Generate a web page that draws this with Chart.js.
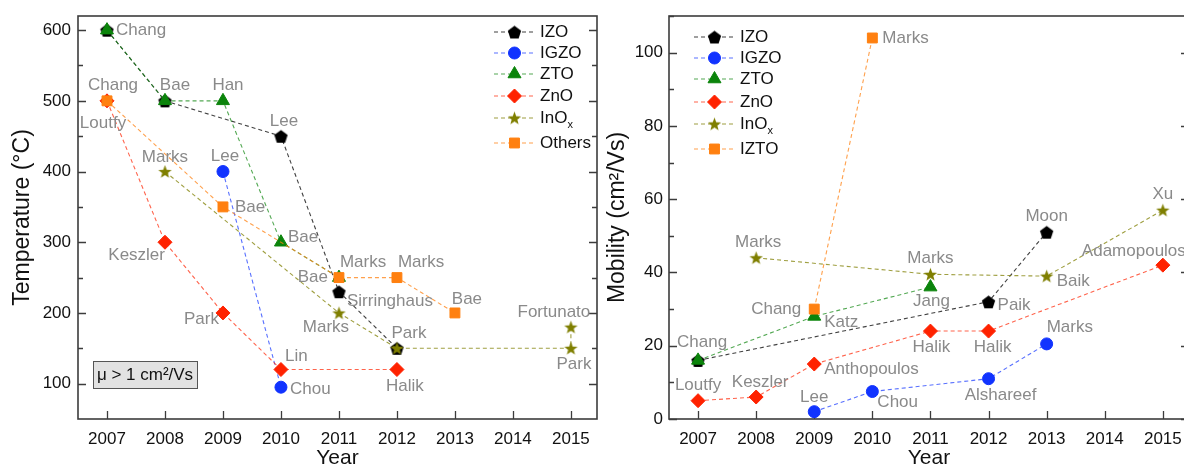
<!DOCTYPE html>
<html>
<head>
<meta charset="utf-8">
<script src="https://cdn.jsdelivr.net/npm/chart.js@4.4.1/dist/chart.umd.min.js"></script>
<style>
  html, body { margin: 0; padding: 0; background: #fff; overflow: hidden; }
  #wrap { position: relative; width: 1184px; height: 465px; overflow: hidden; }
  .box { position: absolute; top: 0; height: 465px; }
  #left { left: 0; width: 600px; }
  #right { left: 600px; width: 600px; }
</style>
</head>
<body>
<div id="wrap">
  <div class="box" id="left"><canvas id="tempChart" width="600" height="465"></canvas></div>
  <div class="box" id="right"><canvas id="mobChart" width="600" height="465"></canvas></div>
</div>
<script>
const FONT = '"Liberation Sans", Arial, Helvetica, sans-serif';
Chart.defaults.font.family = FONT;
Chart.defaults.color = '#111';

// ---------- data ----------
const yearTicks = [2007, 2008, 2009, 2010, 2011, 2012, 2013, 2014, 2015];
const tempTicks = [100, 200, 300, 400, 500, 600];
const mobTicks = [0, 20, 40, 60, 80, 100];

const tempNames = ['IZO', 'IGZO', 'ZTO', 'ZnO', 'InO_x', 'Others'];
const mobNames  = ['IZO', 'IGZO', 'ZTO', 'ZnO', 'InO_x', 'IZTO'];

// processing temperature (left)
const tIZO_yr   = [2007, 2008, 2010, 2011, 2012];
const tIZO_val  = [600, 500, 450, 230, 150];
const tIZO_ref  = ['', 'Bae', 'Lee', 'Sirringhaus', 'Park'];
const tIGZO_yr  = [2009, 2010];
const tIGZO_val = [400, 95];
const tIGZO_ref = ['Lee', 'Chou'];
const tZTO_yr   = [2007, 2008, 2009, 2010, 2011];
const tZTO_val  = [600, 500, 500, 300, 250];
const tZTO_ref  = ['Chang', '', 'Han', 'Bae', 'Marks'];
const tZnO_yr   = [2007, 2008, 2009, 2010, 2012];
const tZnO_val  = [500, 300, 200, 120, 120];
const tZnO_ref  = ['Loutfy', 'Keszler', 'Park', 'Lin', 'Halik'];
const tInO_yr   = [2008, 2011, 2012, 2015, 2015];
const tInO_val  = [400, 200, 150, 150, 180];
const tInO_ref  = ['Marks', 'Marks', '', 'Park', 'Fortunato'];
const tOth_yr   = [2007, 2009, 2011, 2012, 2013];
const tOth_val  = [500, 350, 250, 250, 200];
const tOth_ref  = ['Chang', 'Bae', 'Bae', 'Marks', 'Bae'];

// mobility (right)
const mIZO_yr   = [2007, 2012, 2013];
const mIZO_val  = [16, 32, 51];
const mIZO_ref  = ['', 'Paik', 'Moon'];
const mIGZO_yr  = [2009, 2010, 2012, 2013];
const mIGZO_val = [2, 7.5, 11, 20.5];
const mIGZO_ref = ['Lee', 'Chou', 'Alshareef', 'Marks'];
const mZTO_yr   = [2007, 2009, 2011];
const mZTO_val  = [16, 28, 36];
const mZTO_ref  = ['Chang', 'Katz', 'Jang'];
const mZnO_yr   = [2007, 2008, 2009, 2011, 2012, 2015];
const mZnO_val  = [5, 6, 15, 24, 24, 42];
const mZnO_ref  = ['Loutfy', 'Keszler', 'Anthopoulos', 'Halik', 'Halik', 'Adamopoulos'];
const mInO_yr   = [2008, 2011, 2013, 2015];
const mInO_val  = [44, 39.5, 39, 57];
const mInO_ref  = ['Marks', 'Marks', 'Baik', 'Xu'];
const mIZTO_yr  = [2009, 2010];
const mIZTO_val = [30, 104];
const mIZTO_ref = ['Chang', 'Marks'];

// ---------- styles ----------
const COLORS = ['#000000', '#1133ff', '#0b840b', '#ff2200', '#7f7f00', '#ff8010'];
const LINE_COLORS = ['rgba(0,0,0,0.75)', 'rgba(17,51,255,0.7)', 'rgba(11,132,11,0.7)', 'rgba(255,34,0,0.7)', 'rgba(127,127,0,0.75)', 'rgba(255,128,16,0.75)'];

function shapeCanvas(kind, color, size) {
  const c = document.createElement('canvas');
  c.width = c.height = size;
  const g = c.getContext('2d');
  const r = size / 2 - 0.5;
  const n = kind === 'star' ? 10 : 5;
  const cy = kind === 'star' ? size / 2 + 0.6 : size / 2 + 0.8;
  g.beginPath();
  for (let i = 0; i < n; i++) {
    const a = -Math.PI / 2 + i * 2 * Math.PI / n;
    const rr = (kind === 'star' && i % 2) ? r * 0.42 : r;
    const px = size / 2 + rr * Math.cos(a), py = cy + rr * Math.sin(a);
    if (i === 0) g.moveTo(px, py); else g.lineTo(px, py);
  }
  g.closePath();
  g.fillStyle = color;
  g.fill();
  return c;
}
const pentagon = shapeCanvas('pentagon', COLORS[0], 15);
const star = shapeCanvas('star', COLORS[4], 15);
const STYLES = [pentagon, 'circle', 'triangle', 'rectRot', star, 'rect'];
const RADII = [7, 6, 7.5, 7, 7, 7];
const ORDER = [5, 4, 2, 3, 1, 0];

function series(i, label, xs, ys, refs, spots) {
  return {
    label: label,
    data: xs.map((x, k) => ({ x: x, y: ys[k] })),
    refs: refs,
    spots: spots,
    borderColor: LINE_COLORS[i],
    backgroundColor: COLORS[i],
    pointBackgroundColor: COLORS[i],
    pointBorderColor: COLORS[i],
    pointBorderWidth: 1,
    borderWidth: 1.1,
    borderDash: [4, 3],
    pointStyle: STYLES[i],
    pointRadius: RADII[i],
    pointHoverRadius: RADII[i],
    tension: 0,
    fill: false,
    order: ORDER[i]
  };
}

// label offsets (dx, dy, align) next to each point
const tempSpots = [
  [null, [10, -16, 'center'], [3, -15, 'center'], [8, 10, 'left'], [12, -15, 'center']],
  [[2, -15, 'center'], [9, 2, 'left']],
  [[9, 0, 'left'], null, [5, -16, 'center'], [7, -5, 'left'], [1, -15, 'left']],
  [[-4, 22, 'center'], [0, 13, 'right'], [-4, 6, 'right'], [4, -13, 'left'], [8, 17, 'center']],
  [[0, -14, 'center'], [-13, 14, 'center'], null, [3, 16, 'center'], [-17, -15, 'center']],
  [[6, -16, 'center'], [12, 0, 'left'], [-11, 0, 'right'], [1, -15, 'left'], [12, -14, 'center']]
];
const mobSpots = [
  [null, [9, 4, 'left'], [0, -16, 'center']],
  [[0, -14, 'center'], [5, 11, 'left'], [12, 17, 'center'], [0, -17, 'left']],
  [[4, -18, 'center'], [10, 6, 'left'], [1, 14, 'center']],
  [[0, -15, 'center'], [4, -15, 'center'], [10, 5, 'left'], [1, 16, 'center'], [4, 16, 'center'], [-81, -14, 'left']],
  [[2, -15, 'center'], [0, -16, 'center'], [10, 5, 'left'], [0, -16, 'center']],
  [[-13, 0, 'right'], [10, 0, 'left']]
];

// ---------- plugins ----------
function framePlugin(majorLen, minorLen) {
  return {
    id: 'frame',
    beforeDatasetsDraw(chart) {
      const { ctx, chartArea: a, scales: { x, y } } = chart;
      ctx.save();
      ctx.strokeStyle = '#3c3c3c';
      ctx.lineWidth = 1.6;
      ctx.strokeRect(a.left, a.top, a.right - a.left, a.bottom - a.top);
      ctx.lineWidth = 1.3;
      ctx.beginPath();
      x.ticks.forEach(t => {
        const px = Math.round(x.getPixelForValue(t.value)) + 0.5;
        ctx.moveTo(px, a.bottom); ctx.lineTo(px, a.bottom - majorLen);
      });
      const vals = y.ticks.map(t => t.value);
      const step = vals[1] - vals[0];
      const minors = [];
      vals.forEach(v => [v - step / 2, v + step / 2].forEach(m => {
        if (m > y.min && m <= y.max && !minors.includes(m)) minors.push(m);
      }));
      vals.forEach(v => {
        const py = Math.round(y.getPixelForValue(v)) + 0.5;
        ctx.moveTo(a.left, py); ctx.lineTo(a.left + majorLen, py);
        ctx.moveTo(a.right, py); ctx.lineTo(a.right - majorLen, py);
      });
      minors.forEach(v => {
        const py = Math.round(y.getPixelForValue(v)) + 0.5;
        ctx.moveTo(a.left, py); ctx.lineTo(a.left + minorLen, py);
        ctx.moveTo(a.right, py); ctx.lineTo(a.right - minorLen, py);
      });
      ctx.stroke();
      ctx.restore();
    }
  };
}

const refLabels = {
  id: 'refLabels',
  afterDatasetsDraw(chart) {
    const ctx = chart.ctx;
    ctx.save();
    ctx.font = '17px ' + FONT;
    ctx.fillStyle = '#8a8a8a';
    ctx.textBaseline = 'middle';
    chart.data.datasets.forEach((ds, i) => {
      const meta = chart.getDatasetMeta(i);
      meta.data.forEach((pt, j) => {
        const name = ds.refs[j], s = ds.spots[j];
        if (!name || !s) return;
        ctx.textAlign = s[2];
        ctx.fillText(name, pt.x + s[0], pt.y + s[1]);
      });
    });
    ctx.restore();
  }
};

function legendPlugin(names, x0, rowYs) {
  return {
    id: 'originLegend',
    afterDraw(chart) {
      const ctx = chart.ctx;
      ctx.save();
      chart.data.datasets.forEach((ds, i) => {
        const y = rowYs[i];
        ctx.strokeStyle = LINE_COLORS[i];
        ctx.lineWidth = 1.1;
        ctx.setLineDash([4, 3]);
        ctx.beginPath();
        ctx.moveTo(x0, y); ctx.lineTo(x0 + 41, y);
        ctx.stroke();
        ctx.setLineDash([]);
        ctx.fillStyle = COLORS[i];
        ctx.strokeStyle = COLORS[i];
        ctx.lineWidth = 1;
        Chart.helpers.drawPoint(ctx, { pointStyle: STYLES[i], radius: RADII[i], borderWidth: 1, rotation: 0 }, x0 + 20.5, y);
        ctx.fillStyle = '#111';
        ctx.textAlign = 'left';
        ctx.textBaseline = 'middle';
        const parts = names[i].split('_');
        ctx.font = '17px ' + FONT;
        ctx.fillText(parts[0], x0 + 46, y);
        if (parts[1]) {
          const w = ctx.measureText(parts[0]).width;
          ctx.font = '11px ' + FONT;
          ctx.fillText(parts[1], x0 + 46 + w, y + 7);
        }
      });
      ctx.restore();
    }
  };
}

const muBox = {
  id: 'muBox',
  afterDraw(chart) {
    const { ctx, chartArea: a } = chart;
    const bx = a.left + 15, by = a.bottom - 58, bw = 104, bh = 27;
    ctx.save();
    ctx.fillStyle = '#e2e2e2';
    ctx.fillRect(bx, by, bw, bh);
    ctx.strokeStyle = '#555';
    ctx.lineWidth = 1;
    ctx.strokeRect(bx + 0.5, by + 0.5, bw, bh);
    ctx.fillStyle = '#111';
    ctx.font = '17px ' + FONT;
    ctx.textAlign = 'center';
    ctx.textBaseline = 'middle';
    ctx.fillText('\u03bc > 1 cm\u00b2/Vs', bx + bw / 2, by + bh / 2 + 1);
    ctx.restore();
  }
};

function axes(yMin, yMax, yTicks, yTitle, yWidth, titlePad, tickPad) {
  return {
    x: {
      type: 'linear', min: 2006.5, max: 2015.45,
      afterFit: s => { s.height = 46; s.paddingLeft = 0; s.paddingRight = 0; },
      afterBuildTicks: s => { s.ticks = yearTicks.map(v => ({ value: v })); },
      grid: { display: false, drawTicks: false },
      border: { display: false },
      ticks: { padding: 10, color: '#111', font: { size: 17 }, maxRotation: 0, autoSkip: false, callback: v => String(v) },
      title: { display: true, text: 'Year', color: '#111', font: { size: 21, lineHeight: 0.62 }, padding: 0 }
    },
    y: {
      type: 'linear', min: yMin, max: yMax,
      afterFit: s => { s.width = yWidth; s.paddingTop = 0; s.paddingBottom = 0; },
      afterBuildTicks: s => { s.ticks = yTicks.map(v => ({ value: v })); },
      grid: { display: false, drawTicks: false },
      border: { display: false },
      ticks: { padding: tickPad, color: '#111', font: { size: 17 }, callback: v => String(v) },
      title: { display: true, text: yTitle, color: '#111', font: { size: 23 }, padding: { top: titlePad, bottom: 0 } }
    }
  };
}

const common = {
  responsive: false,
  animation: false,
  events: [],
  plugins: { legend: { display: false }, tooltip: { enabled: false } }
};

// ---------- left: temperature ----------
new Chart(document.getElementById('tempChart'), {
  type: 'line',
  data: {
    datasets: [
      series(0, 'IZO', tIZO_yr, tIZO_val, tIZO_ref, tempSpots[0]),
      series(1, 'IGZO', tIGZO_yr, tIGZO_val, tIGZO_ref, tempSpots[1]),
      series(2, 'ZTO', tZTO_yr, tZTO_val, tZTO_ref, tempSpots[2]),
      series(3, 'ZnO', tZnO_yr, tZnO_val, tZnO_ref, tempSpots[3]),
      series(4, 'InOx', tInO_yr, tInO_val, tInO_ref, tempSpots[4]),
      series(5, 'Others', tOth_yr, tOth_val, tOth_ref, tempSpots[5])
    ]
  },
  options: Object.assign({}, common, {
    layout: { autoPadding: false, padding: { top: 16, right: 3, left: 0, bottom: 0 } },
    scales: axes(50, 620, tempTicks, 'Temperature (\u00b0C)', 78, 9, 7)
  }),
  plugins: [framePlugin(8, 5), refLabels, legendPlugin(tempNames, 494, [32, 53, 74, 96, 118, 143]), muBox]
});

// ---------- right: mobility ----------
new Chart(document.getElementById('mobChart'), {
  type: 'line',
  data: {
    datasets: [
      series(0, 'IZO', mIZO_yr, mIZO_val, mIZO_ref, mobSpots[0]),
      series(1, 'IGZO', mIGZO_yr, mIGZO_val, mIGZO_ref, mobSpots[1]),
      series(2, 'ZTO', mZTO_yr, mZTO_val, mZTO_ref, mobSpots[2]),
      series(3, 'ZnO', mZnO_yr, mZnO_val, mZnO_ref, mobSpots[3]),
      series(4, 'InOx', mInO_yr, mInO_val, mInO_ref, mobSpots[4]),
      series(5, 'IZTO', mIZTO_yr, mIZTO_val, mIZTO_ref, mobSpots[5])
    ]
  },
  options: Object.assign({}, common, {
    layout: { autoPadding: false, padding: { top: 16, right: 11, left: 0, bottom: 0 } },
    scales: axes(0, 110, mobTicks, 'Mobility (cm\u00b2/Vs)', 69, 4, 6)
  }),
  plugins: [framePlugin(8, 5), refLabels, legendPlugin(mobNames, 94, [37, 58, 79, 102, 124, 149])]
});
</script>
</body>
</html>
